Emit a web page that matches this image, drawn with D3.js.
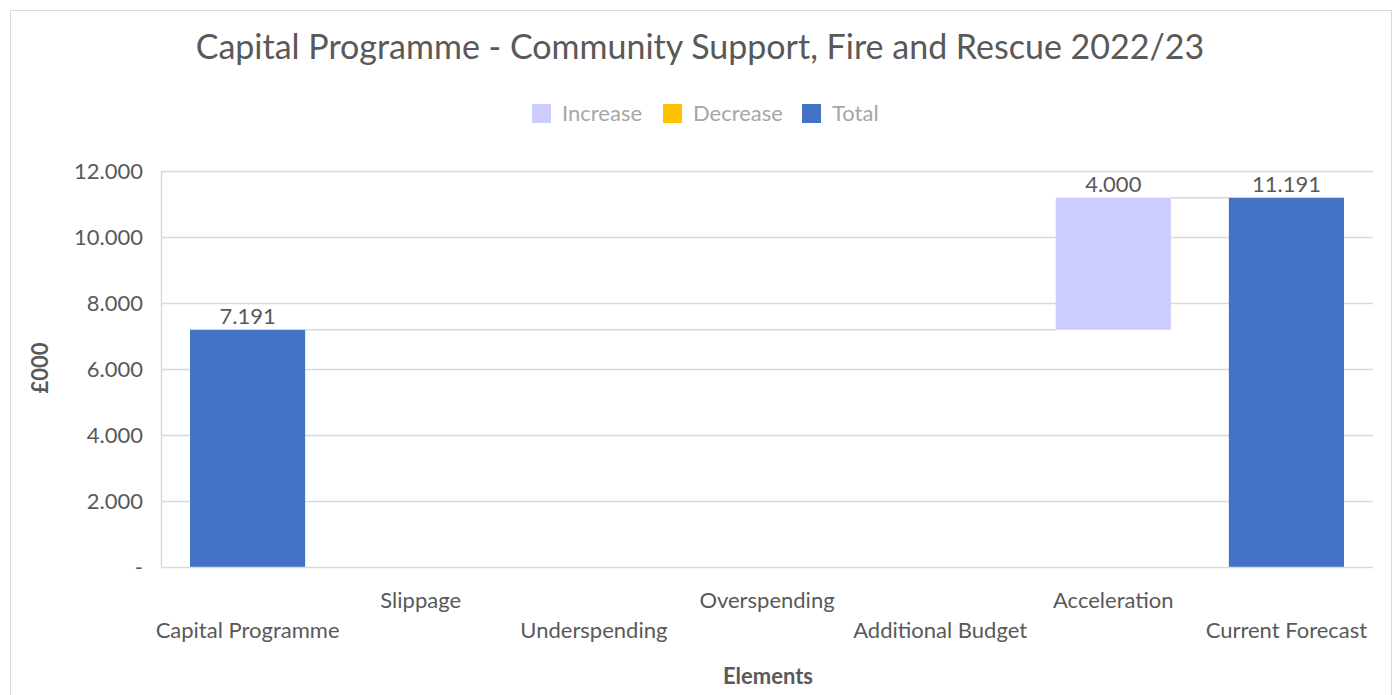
<!DOCTYPE html>
<html>
<head>
<meta charset="utf-8">
<script src="https://cdn.jsdelivr.net/npm/d3@7"></script>
<style>
  body { margin: 0; background: #fff; font-family: Lato, "Open Sans", sans-serif; }
  text { fill: #595959; }
</style>
</head>
<body>
<script>
// Categories along the x axis
var categories = ["Capital Programme", "Slippage", "Underspending", "Overspending",
                  "Additional Budget", "Acceleration", "Current Forecast"];
// Change for each step (totals hold the running total)
var amounts = [7.191, 0, 0, 0, 0, 4.000, 11.191];
// Kind of each step: total, increase or decrease
var kinds = ["total", "increase", "decrease", "increase", "increase", "increase", "total"];
var yTicks = [0, 2, 4, 6, 8, 10, 12];
var legendNames = ["Increase", "Decrease", "Total"];
var colours = { increase: "#ccccff", decrease: "#ffc000", total: "#4472c4" };

var width = 1395, height = 695;
var plotLeft = 161, plotRight = 1373, plotTop = 171, plotBottom = 567;

var svg = d3.select("body").append("svg").attr("width", width).attr("height", height);

// chart border
svg.append("rect").attr("x", 10.5).attr("y", 10.5).attr("width", 1381).attr("height", 700)
    .style("fill", "none").style("stroke", "#d9d9d9");

// build the steps
var steps = [];
var running = 0;
for (var i = 0; i < categories.length; ++i) {
    var s = { name: categories[i], kind: kinds[i], value: amounts[i] };
    if (s.kind == "total") {
        s.start = 0; s.end = amounts[i]; running = amounts[i];
    } else if (s.kind == "increase") {
        s.start = running; s.end = running + amounts[i]; running = s.end;
    } else {
        s.start = running; s.end = running - amounts[i]; running = s.end;
    }
    steps.push(s);
}

var x = d3.scaleBand().domain(categories).range([plotLeft, plotRight]).paddingInner(0.335).paddingOuter(0.1675);
var y = d3.scaleLinear().domain([0, 12]).range([plotBottom, plotTop]);

// gridlines
svg.append("g").selectAll("line").data(yTicks.slice(1)).join("line")
    .attr("x1", plotLeft).attr("x2", plotRight)
    .attr("y1", function(d){ return Math.round(y(d)) + 0.5; })
    .attr("y2", function(d){ return Math.round(y(d)) + 0.5; })
    .style("stroke", "#d9d9d9").style("stroke-width", 1.5);

// y axis labels
var yAxis = d3.axisLeft(y).tickValues(yTicks).tickSize(0).tickPadding(18)
    .tickFormat(function(d){ return d == 0 ? "-" : d3.format(".3f")(d); });
var ya = svg.append("g").attr("transform", "translate(" + plotLeft + ",0)").call(yAxis);
ya.select(".domain").style("stroke", "#d9d9d9").style("stroke-width", 1.5);
ya.selectAll("text").style("font-size", "22px").style("fill", "#595959")
    .style("font-family", "Lato, sans-serif");

// connectors between bars
var conns = [];
for (var i = 0; i < steps.length - 1; ++i) {
    if (steps[i].value == 0 && steps[i].kind != "total") continue;
    // find next non-empty step
    for (var j = i + 1; j < steps.length; ++j) {
        if (steps[j].value != 0) break;
    }
    conns.push({ from: steps[i], to: steps[j], level: steps[i].end });
}
svg.append("g").selectAll("line").data(conns).join("line")
    .attr("x1", function(d){ return x(d.from.name) + x.bandwidth(); })
    .attr("x2", function(d){ return x(d.to.name); })
    .attr("y1", function(d){ return y(d.level); })
    .attr("y2", function(d){ return y(d.level); })
    .style("stroke", "#d9d9d9").style("stroke-width", 1.5);

// bars
svg.append("g").selectAll("rect").data(steps.filter(function(d){ return d.value != 0; })).join("rect")
    .attr("x", function(d){ return x(d.name); })
    .attr("width", x.bandwidth())
    .attr("y", function(d){ return y(Math.max(d.start, d.end)); })
    .attr("height", function(d){ return Math.abs(y(d.start) - y(d.end)); })
    .style("fill", function(d){ return colours[d.kind]; });

// x axis line
svg.append("line").attr("x1", plotLeft).attr("x2", plotRight)
    .attr("y1", plotBottom + 0.5).attr("y2", plotBottom + 0.5)
    .style("stroke", "#d9d9d9").style("stroke-width", 1.5);

// data labels
svg.append("g").selectAll("text").data(steps.filter(function(d){ return d.value != 0; })).join("text")
    .attr("x", function(d){ return x(d.name) + x.bandwidth() / 2; })
    .attr("y", function(d){ return y(Math.max(d.start, d.end)) - 6; })
    .attr("text-anchor", "middle")
    .style("font-size", "22px")
    .text(function(d){ return d3.format(".3f")(d.value); });

// category labels, staggered
svg.append("g").selectAll("text").data(categories).join("text")
    .attr("x", function(d){ return x(d) + x.bandwidth() / 2; })
    .attr("y", function(d, i){ return i % 2 == 0 ? 638 : 608; })
    .attr("text-anchor", "middle")
    .style("font-size", "22px")
    .text(function(d){ return d; });

// axis titles
svg.append("text").attr("x", 768).attr("y", 684).attr("text-anchor", "middle")
    .style("font-size", "22px").style("font-weight", "bold").text("Elements");
svg.append("text").attr("transform", "translate(48,368) rotate(-90)").attr("text-anchor", "middle")
    .style("font-size", "22px").style("font-weight", "bold").text("£000");

// title
svg.append("text").attr("x", 700).attr("y", 59).attr("text-anchor", "middle")
    .style("font-size", "34px").text("Capital Programme - Community Support, Fire and Rescue 2022/23");

// legend
var legendX = [532, 663, 802];
var lg = svg.append("g").selectAll("g").data(legendNames).join("g")
    .attr("transform", function(d, i){ return "translate(" + legendX[i] + ",104)"; });
lg.append("rect").attr("width", 19).attr("height", 19)
    .style("fill", function(d){ return colours[d.toLowerCase()]; });
lg.append("text").attr("x", 30).attr("y", 17)
    .style("font-size", "22px").style("fill", "#a6a6a6")
    .text(function(d){ return d; });
</script>
</body>
</html>
